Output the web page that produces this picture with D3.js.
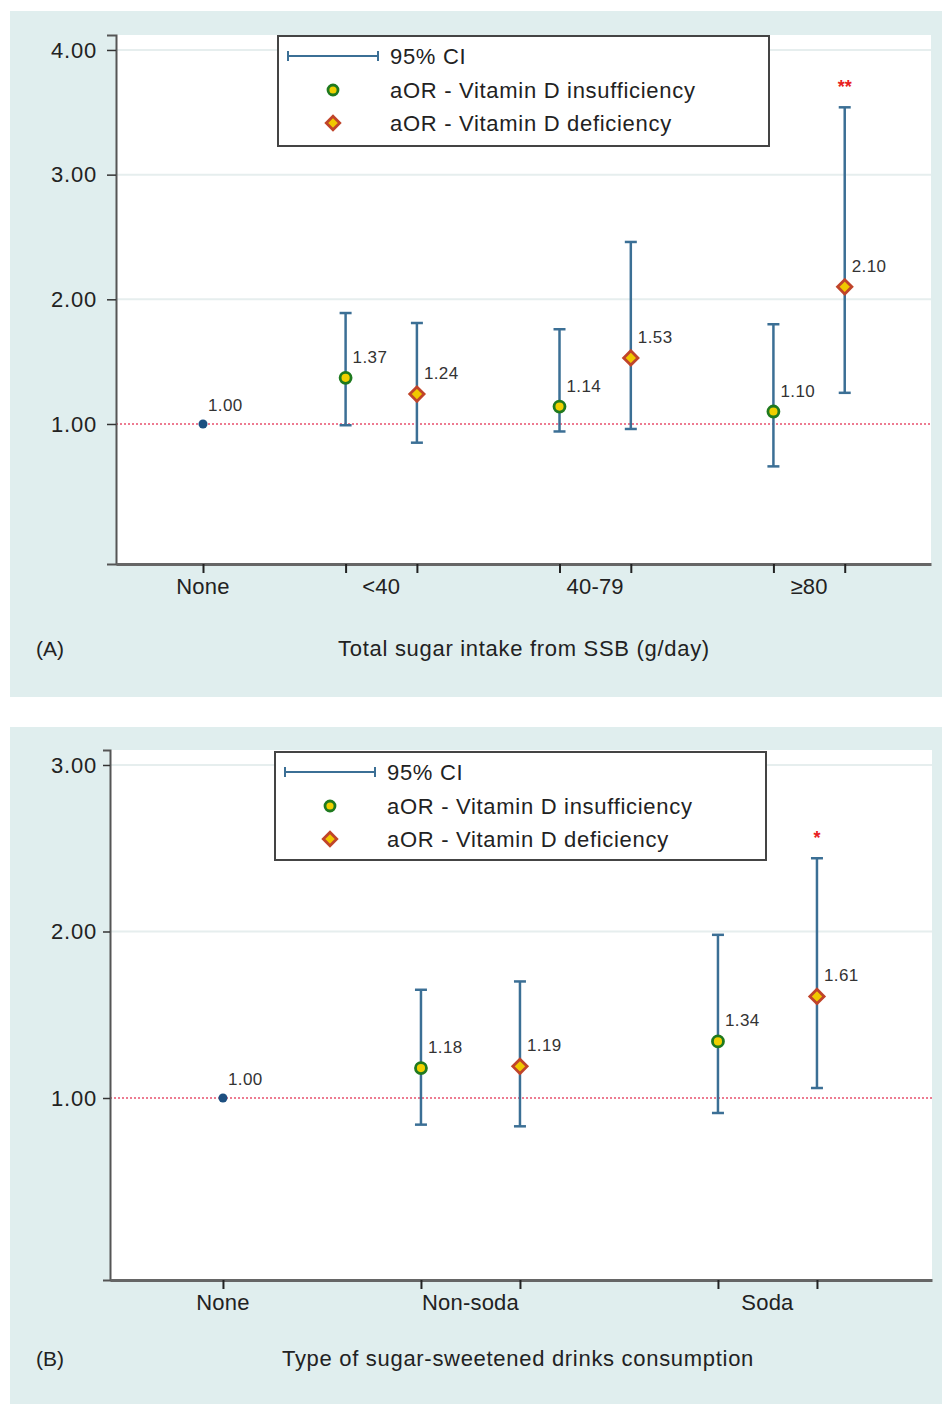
<!DOCTYPE html>
<html>
<head>
<meta charset="utf-8">
<script src="https://cdn.jsdelivr.net/npm/d3@7"></script>
<style>
  body { margin: 0; background: #fff; }
  svg text { font-family: "Liberation Sans", Arial, sans-serif; }
</style>
</head>
<body>
<script>
// panel A data
var groupsA = ["None", "<40", "40-79", "\u226580"];
var insuffA = [null, 1.37, 1.14, 1.10];
var insuffLoA = [null, 0.99, 0.94, 0.66];
var insuffHiA = [null, 1.89, 1.76, 1.80];
var defA = [null, 1.24, 1.53, 2.10];
var defLoA = [null, 0.85, 0.96, 1.25];
var defHiA = [null, 1.81, 2.46, 3.54];
var starsA = ["", "", "", "**"];
var ticksA = [1, 2, 3, 4];

// panel B data
var groupsB = ["None", "Non-soda", "Soda"];
var insuffB = [null, 1.18, 1.34];
var insuffLoB = [null, 0.84, 0.91];
var insuffHiB = [null, 1.65, 1.98];
var defB = [null, 1.19, 1.61];
var defLoB = [null, 0.83, 1.06];
var defHiB = [null, 1.70, 2.44];
var starsB = ["", "", "*"];
var ticksB = [1, 2, 3];

var refValue = 1.00;

var ciColor = "#3b6f95";
var svg = d3.select("body").append("svg")
            .attr("width", 942)
            .attr("height", 1405);

function panel(opt) {
    var g = svg.append("g");

    g.append("rect")
     .attr("x", opt.bg[0]).attr("y", opt.bg[1])
     .attr("width", opt.bg[2]).attr("height", opt.bg[3])
     .attr("fill", "#e0eeee");

    var x = d3.scaleLinear().domain(opt.xDomain).range([opt.left, opt.right]);
    var y = d3.scaleLinear().domain(opt.yDomain).range([opt.bottom, opt.top]);

    g.append("rect")
     .attr("x", opt.left).attr("y", opt.top)
     .attr("width", opt.right - opt.left).attr("height", opt.bottom - opt.top)
     .attr("fill", "#fff");

    // grid
    g.selectAll(".grid").data(opt.ticks.filter(function (t) { return t != refValue; }))
     .enter().append("line")
     .attr("x1", opt.left).attr("x2", opt.right)
     .attr("y1", function (d) { return y(d); }).attr("y2", function (d) { return y(d); })
     .attr("stroke", "#e6eeee").attr("stroke-width", 2);

    // reference line at 1
    g.append("line")
     .attr("x1", opt.left).attr("x2", opt.right)
     .attr("y1", y(refValue)).attr("y2", y(refValue))
     .attr("stroke", "#e8506e").attr("stroke-width", 1.3)
     .attr("stroke-dasharray", "2,2");

    // y axis
    var yAxis = d3.axisLeft(y).tickValues(opt.ticks).tickFormat(d3.format(".2f"))
                  .tickSize(opt.ytick[0]).tickPadding(opt.ytick[1]);
    var ya = g.append("g").attr("transform", "translate(" + opt.left + ",0)").call(yAxis);
    ya.select(".domain").attr("stroke", "#555").attr("stroke-width", 2);
    ya.selectAll(".tick line").attr("stroke", "#333").attr("stroke-width", 1.5);
    ya.selectAll(".tick text").attr("font-size", 22).attr("fill", "#222")
      .attr("letter-spacing", 0.8);

    // x axis with ticks at every marker position
    var tickPos = [0];
    for (var i = 1; i < opt.groups.length; i++) { tickPos.push(opt.pos[i], opt.pos[i] + 1); }
    var xAxis = d3.axisBottom(x).tickValues(tickPos).tickFormat("").tickSize(9).tickSizeOuter(0);
    var xa = g.append("g").attr("transform", "translate(0," + opt.bottom + ")").call(xAxis);
    xa.select(".domain").attr("stroke", "#666").attr("stroke-width", 3);
    xa.selectAll(".tick line").attr("stroke", "#222").attr("stroke-width", 2);

    g.selectAll(".glabel").data(opt.groups).enter().append("text")
     .attr("x", function (d, i) { return i == 0 ? x(0) : x(opt.pos[i] + 0.5); })
     .attr("y", opt.bottom + 30)
     .attr("text-anchor", "middle")
     .attr("font-size", 22).attr("fill", "#222").attr("letter-spacing", 0.2)
     .text(function (d) { return d; });

    g.append("text").attr("x", opt.tagX).attr("y", opt.titleY)
     .attr("font-size", 21).attr("fill", "#222")
     .text(opt.tag);
    g.append("text").attr("x", opt.titleX).attr("y", opt.titleY)
     .attr("text-anchor", "middle")
     .attr("font-size", 22).attr("fill", "#222").attr("letter-spacing", 0.7)
     .text(opt.title);

    // error bars
    function bars(vals, lo, hi, off) {
        var rows = [];
        vals.forEach(function (v, i) {
            if (v != null) rows.push({ x: opt.pos[i] + off, v: v, lo: lo[i], hi: hi[i], i: i });
        });
        var eb = g.selectAll(null).data(rows).enter().append("g").attr("stroke", ciColor);
        eb.append("line")
          .attr("x1", function (d) { return x(d.x); }).attr("x2", function (d) { return x(d.x); })
          .attr("y1", function (d) { return y(d.lo); }).attr("y2", function (d) { return y(d.hi); })
          .attr("stroke-width", 2.5);
        eb.append("line")
          .attr("x1", function (d) { return x(d.x) - 6; }).attr("x2", function (d) { return x(d.x) + 6; })
          .attr("y1", function (d) { return y(d.lo); }).attr("y2", function (d) { return y(d.lo); })
          .attr("stroke-width", 2.5);
        eb.append("line")
          .attr("x1", function (d) { return x(d.x) - 6; }).attr("x2", function (d) { return x(d.x) + 6; })
          .attr("y1", function (d) { return y(d.hi); }).attr("y2", function (d) { return y(d.hi); })
          .attr("stroke-width", 2.5);
        return rows;
    }
    var rowsI = bars(opt.insuff, opt.insuffLo, opt.insuffHi, 0);
    var rowsD = bars(opt.def, opt.defLo, opt.defHi, 1);

    // none reference point
    g.append("circle").attr("cx", x(0)).attr("cy", y(refValue)).attr("r", 4.5)
     .attr("fill", "#1c4f80");
    g.append("text").attr("x", x(0) + 5).attr("y", y(refValue) - 13)
     .attr("font-size", 17).attr("fill", "#333").attr("letter-spacing", 0.4)
     .text(d3.format(".2f")(refValue));

    g.selectAll(null).data(rowsI).enter().append("circle")
     .attr("cx", function (d) { return x(d.x); }).attr("cy", function (d) { return y(d.v); })
     .attr("r", 5.5).attr("fill", "#f0d000").attr("stroke", "#1f7a1f").attr("stroke-width", 2.8);

    g.selectAll(null).data(rowsD).enter().append("path")
     .attr("d", d3.symbol().type(d3.symbolDiamond2).size(130))
     .attr("transform", function (d) { return "translate(" + x(d.x) + "," + y(d.v) + ")"; })
     .attr("fill", "#f0c800").attr("stroke", "#c0442a").attr("stroke-width", 2.8);

    g.selectAll(null).data(rowsI.concat(rowsD)).enter().append("text")
     .attr("x", function (d) { return x(d.x) + 7; })
     .attr("y", function (d) { return y(d.v) - 15; })
     .attr("font-size", 17).attr("fill", "#333").attr("letter-spacing", 0.4)
     .text(function (d) { return d3.format(".2f")(d.v); });

    g.selectAll(null).data(rowsD.filter(function (d) { return opt.stars[d.i] != ""; }))
     .enter().append("text")
     .attr("x", function (d) { return x(d.x); })
     .attr("y", function (d) { return y(d.hi) - 14; })
     .attr("text-anchor", "middle")
     .attr("font-size", 18).attr("font-weight", "bold").attr("fill", "#e82020")
     .text(function (d) { return opt.stars[d.i]; });

    // legend
    var L = opt.legend;
    var lg = g.append("g").attr("transform", "translate(" + L[0] + "," + L[1] + ")");
    lg.append("rect").attr("x", 0).attr("y", 0).attr("width", L[2]).attr("height", L[3])
      .attr("fill", "#fff").attr("stroke", "#444").attr("stroke-width", 2);
    var r1 = 20, r2 = 54, r3 = 87;
    lg.append("line").attr("x1", 10).attr("x2", 100).attr("y1", r1).attr("y2", r1)
      .attr("stroke", ciColor).attr("stroke-width", 2);
    lg.append("line").attr("x1", 10).attr("x2", 10).attr("y1", r1 - 5).attr("y2", r1 + 5)
      .attr("stroke", ciColor).attr("stroke-width", 2);
    lg.append("line").attr("x1", 100).attr("x2", 100).attr("y1", r1 - 5).attr("y2", r1 + 5)
      .attr("stroke", ciColor).attr("stroke-width", 2);
    lg.append("circle").attr("cx", 55).attr("cy", r2).attr("r", 5)
      .attr("fill", "#f0d000").attr("stroke", "#1f7a1f").attr("stroke-width", 2.8);
    lg.append("path").attr("d", d3.symbol().type(d3.symbolDiamond2).size(115))
      .attr("transform", "translate(55," + r3 + ")")
      .attr("fill", "#f0c800").attr("stroke", "#c0442a").attr("stroke-width", 2.8);
    var legTexts = ["95% CI", "aOR - Vitamin D insufficiency", "aOR - Vitamin D deficiency"];
    lg.selectAll(null).data(legTexts).enter().append("text")
      .attr("x", 112).attr("y", function (d, i) { return [r1, r2, r3][i] + 8; })
      .attr("font-size", 22).attr("fill", "#222").attr("letter-spacing", 0.7)
      .text(function (d) { return d; });
}

panel({
    bg: [10, 11, 932, 686],
    left: 116, right: 931, top: 35, bottom: 564,
    xDomain: [-1.22, 10.21], yDomain: [-0.123, 4.12],
    groups: groupsA, pos: [0, 2, 5, 8],
    insuff: insuffA, insuffLo: insuffLoA, insuffHi: insuffHiA,
    def: defA, defLo: defLoA, defHi: defHiA,
    stars: starsA, ticks: ticksA, ytick: [9, 10],
    tag: "(A)", tagX: 36, titleX: 524, titleY: 656,
    title: "Total sugar intake from SSB (g/day)",
    legend: [278, 36, 491, 110]
});

panel({
    bg: [10, 727, 932, 677],
    left: 110, right: 932, top: 750, bottom: 1280,
    xDomain: [-1.141, 7.162], yDomain: [-0.093, 3.09],
    groups: groupsB, pos: [0, 2, 5],
    insuff: insuffB, insuffLo: insuffLoB, insuffHi: insuffHiB,
    def: defB, defLo: defLoB, defHi: defHiB,
    stars: starsB, ticks: ticksB, ytick: [7, 6],
    tag: "(B)", tagX: 36, titleX: 518, titleY: 1366,
    title: "Type of sugar-sweetened drinks consumption",
    legend: [275, 752, 491, 108]
});
</script>
</body>
</html>
